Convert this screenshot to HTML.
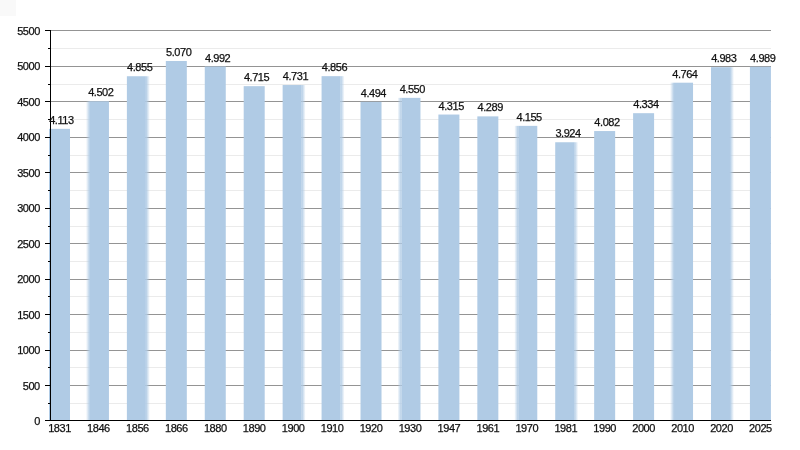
<!DOCTYPE html><html><head><meta charset="utf-8"><style>html,body{margin:0;padding:0;background:#fff;width:800px;height:450px;overflow:hidden}svg{display:block}text{font-family:"Liberation Sans",sans-serif;fill:#111;stroke:#111;stroke-width:0.25px}svg{will-change:transform}</style></head><body>
<svg width="800" height="450" viewBox="0 0 800 450">
<rect x="0" y="0" width="800" height="450" fill="#fff"/><rect x="0" y="0" width="16" height="16" fill="#f9f9f9"/>
<line x1="50.5" x2="771" y1="403.5" y2="403.5" stroke="#ebebeb" stroke-width="1"/>
<line x1="50.5" x2="771" y1="385.5" y2="385.5" stroke="#949494" stroke-width="1"/>
<line x1="50.5" x2="771" y1="367.5" y2="367.5" stroke="#ebebeb" stroke-width="1"/>
<line x1="50.5" x2="771" y1="350.5" y2="350.5" stroke="#949494" stroke-width="1"/>
<line x1="50.5" x2="771" y1="332.5" y2="332.5" stroke="#ebebeb" stroke-width="1"/>
<line x1="50.5" x2="771" y1="314.5" y2="314.5" stroke="#949494" stroke-width="1"/>
<line x1="50.5" x2="771" y1="296.5" y2="296.5" stroke="#ebebeb" stroke-width="1"/>
<line x1="50.5" x2="771" y1="279.5" y2="279.5" stroke="#949494" stroke-width="1"/>
<line x1="50.5" x2="771" y1="261.5" y2="261.5" stroke="#ebebeb" stroke-width="1"/>
<line x1="50.5" x2="771" y1="243.5" y2="243.5" stroke="#949494" stroke-width="1"/>
<line x1="50.5" x2="771" y1="226.5" y2="226.5" stroke="#ebebeb" stroke-width="1"/>
<line x1="50.5" x2="771" y1="208.5" y2="208.5" stroke="#949494" stroke-width="1"/>
<line x1="50.5" x2="771" y1="190.5" y2="190.5" stroke="#ebebeb" stroke-width="1"/>
<line x1="50.5" x2="771" y1="172.5" y2="172.5" stroke="#949494" stroke-width="1"/>
<line x1="50.5" x2="771" y1="155.5" y2="155.5" stroke="#ebebeb" stroke-width="1"/>
<line x1="50.5" x2="771" y1="137.5" y2="137.5" stroke="#949494" stroke-width="1"/>
<line x1="50.5" x2="771" y1="119.5" y2="119.5" stroke="#ebebeb" stroke-width="1"/>
<line x1="50.5" x2="771" y1="101.5" y2="101.5" stroke="#949494" stroke-width="1"/>
<line x1="50.5" x2="771" y1="84.5" y2="84.5" stroke="#ebebeb" stroke-width="1"/>
<line x1="50.5" x2="771" y1="66.5" y2="66.5" stroke="#949494" stroke-width="1"/>
<line x1="50.5" x2="771" y1="48.5" y2="48.5" stroke="#ebebeb" stroke-width="1"/>
<line x1="50.5" x2="771" y1="30.5" y2="30.5" stroke="#949494" stroke-width="1"/>
<defs><linearGradient id="gl" x1="0" x2="1" y1="0" y2="0"><stop offset="0" stop-color="#b0cbe5" stop-opacity="0"/><stop offset="1" stop-color="#b0cbe5" stop-opacity="1"/></linearGradient><linearGradient id="gr" x1="0" x2="1" y1="0" y2="0"><stop offset="0" stop-color="#b0cbe5" stop-opacity="1"/><stop offset="1" stop-color="#b0cbe5" stop-opacity="0"/></linearGradient></defs>
<rect x="49.00" y="128.85" width="21.00" height="291.65" fill="#b0cbe5"/>
<rect x="89.94" y="101.27" width="19.00" height="319.23" fill="#b0cbe5"/>
<rect x="85.94" y="101.27" width="4.0" height="319.23" fill="url(#gl)"/>
<rect x="126.88" y="76.24" width="19.00" height="344.26" fill="#b0cbe5"/>
<rect x="145.88" y="76.24" width="4.0" height="344.26" fill="url(#gr)"/>
<rect x="165.82" y="60.99" width="21.00" height="359.51" fill="#b0cbe5"/>
<rect x="204.76" y="66.52" width="21.00" height="353.98" fill="#b0cbe5"/>
<rect x="243.70" y="86.16" width="21.00" height="334.34" fill="#b0cbe5"/>
<rect x="282.64" y="85.03" width="19.00" height="335.47" fill="#b0cbe5"/>
<rect x="301.64" y="85.03" width="4.0" height="335.47" fill="url(#gr)"/>
<rect x="321.58" y="76.17" width="19.00" height="344.33" fill="#b0cbe5"/>
<rect x="340.58" y="76.17" width="4.0" height="344.33" fill="url(#gr)"/>
<rect x="360.52" y="101.83" width="21.00" height="318.67" fill="#b0cbe5"/>
<rect x="401.46" y="97.86" width="19.00" height="322.64" fill="#b0cbe5"/>
<rect x="397.46" y="97.86" width="4.0" height="322.64" fill="url(#gl)"/>
<rect x="438.40" y="114.53" width="21.00" height="305.97" fill="#b0cbe5"/>
<rect x="477.34" y="116.37" width="21.00" height="304.13" fill="#b0cbe5"/>
<rect x="518.28" y="125.87" width="19.00" height="294.63" fill="#b0cbe5"/>
<rect x="514.28" y="125.87" width="4.0" height="294.63" fill="url(#gl)"/>
<rect x="555.22" y="142.25" width="19.00" height="278.25" fill="#b0cbe5"/>
<rect x="574.22" y="142.25" width="4.0" height="278.25" fill="url(#gr)"/>
<rect x="594.16" y="131.05" width="21.00" height="289.45" fill="#b0cbe5"/>
<rect x="633.10" y="113.18" width="21.00" height="307.32" fill="#b0cbe5"/>
<rect x="674.04" y="82.69" width="19.00" height="337.81" fill="#b0cbe5"/>
<rect x="670.04" y="82.69" width="4.0" height="337.81" fill="url(#gl)"/>
<rect x="710.98" y="67.16" width="19.00" height="353.34" fill="#b0cbe5"/>
<rect x="729.98" y="67.16" width="4.0" height="353.34" fill="url(#gr)"/>
<rect x="749.92" y="66.73" width="21.00" height="353.77" fill="#b0cbe5"/>
<line x1="50.5" y1="30" x2="50.5" y2="421" stroke="#000" stroke-width="1"/>
<line x1="45" y1="420.5" x2="771" y2="420.5" stroke="#000" stroke-width="1"/>
<line x1="45" y1="420.5" x2="50" y2="420.5" stroke="#000" stroke-width="1"/>
<line x1="48" y1="403.5" x2="50" y2="403.5" stroke="#000" stroke-width="1"/>
<line x1="45" y1="385.5" x2="50" y2="385.5" stroke="#000" stroke-width="1"/>
<line x1="48" y1="367.5" x2="50" y2="367.5" stroke="#000" stroke-width="1"/>
<line x1="45" y1="350.5" x2="50" y2="350.5" stroke="#000" stroke-width="1"/>
<line x1="48" y1="332.5" x2="50" y2="332.5" stroke="#000" stroke-width="1"/>
<line x1="45" y1="314.5" x2="50" y2="314.5" stroke="#000" stroke-width="1"/>
<line x1="48" y1="296.5" x2="50" y2="296.5" stroke="#000" stroke-width="1"/>
<line x1="45" y1="279.5" x2="50" y2="279.5" stroke="#000" stroke-width="1"/>
<line x1="48" y1="261.5" x2="50" y2="261.5" stroke="#000" stroke-width="1"/>
<line x1="45" y1="243.5" x2="50" y2="243.5" stroke="#000" stroke-width="1"/>
<line x1="48" y1="226.5" x2="50" y2="226.5" stroke="#000" stroke-width="1"/>
<line x1="45" y1="208.5" x2="50" y2="208.5" stroke="#000" stroke-width="1"/>
<line x1="48" y1="190.5" x2="50" y2="190.5" stroke="#000" stroke-width="1"/>
<line x1="45" y1="172.5" x2="50" y2="172.5" stroke="#000" stroke-width="1"/>
<line x1="48" y1="155.5" x2="50" y2="155.5" stroke="#000" stroke-width="1"/>
<line x1="45" y1="137.5" x2="50" y2="137.5" stroke="#000" stroke-width="1"/>
<line x1="48" y1="119.5" x2="50" y2="119.5" stroke="#000" stroke-width="1"/>
<line x1="45" y1="101.5" x2="50" y2="101.5" stroke="#000" stroke-width="1"/>
<line x1="48" y1="84.5" x2="50" y2="84.5" stroke="#000" stroke-width="1"/>
<line x1="45" y1="66.5" x2="50" y2="66.5" stroke="#000" stroke-width="1"/>
<line x1="48" y1="48.5" x2="50" y2="48.5" stroke="#000" stroke-width="1"/>
<line x1="45" y1="30.5" x2="50" y2="30.5" stroke="#000" stroke-width="1"/>
<text transform="translate(39.80,425.00) scale(1.0,1)" text-anchor="end" font-size="11.0" letter-spacing="-0.45">0</text>
<text transform="translate(39.80,389.55) scale(1.0,1)" text-anchor="end" font-size="11.0" letter-spacing="-0.45">500</text>
<text transform="translate(39.80,354.09) scale(1.0,1)" text-anchor="end" font-size="11.0" letter-spacing="-0.45">1000</text>
<text transform="translate(39.80,318.64) scale(1.0,1)" text-anchor="end" font-size="11.0" letter-spacing="-0.45">1500</text>
<text transform="translate(39.80,283.18) scale(1.0,1)" text-anchor="end" font-size="11.0" letter-spacing="-0.45">2000</text>
<text transform="translate(39.80,247.73) scale(1.0,1)" text-anchor="end" font-size="11.0" letter-spacing="-0.45">2500</text>
<text transform="translate(39.80,212.27) scale(1.0,1)" text-anchor="end" font-size="11.0" letter-spacing="-0.45">3000</text>
<text transform="translate(39.80,176.82) scale(1.0,1)" text-anchor="end" font-size="11.0" letter-spacing="-0.45">3500</text>
<text transform="translate(39.80,141.36) scale(1.0,1)" text-anchor="end" font-size="11.0" letter-spacing="-0.45">4000</text>
<text transform="translate(39.80,105.91) scale(1.0,1)" text-anchor="end" font-size="11.0" letter-spacing="-0.45">4500</text>
<text transform="translate(39.80,70.45) scale(1.0,1)" text-anchor="end" font-size="11.0" letter-spacing="-0.45">5000</text>
<text transform="translate(39.80,35.00) scale(1.0,1)" text-anchor="end" font-size="11.0" letter-spacing="-0.45">5500</text>
<text transform="translate(59.50,432.00) scale(1.0,1)" text-anchor="middle" font-size="11.0" letter-spacing="-0.45">1831</text>
<text transform="translate(98.44,432.00) scale(1.0,1)" text-anchor="middle" font-size="11.0" letter-spacing="-0.45">1846</text>
<text transform="translate(137.38,432.00) scale(1.0,1)" text-anchor="middle" font-size="11.0" letter-spacing="-0.45">1856</text>
<text transform="translate(176.32,432.00) scale(1.0,1)" text-anchor="middle" font-size="11.0" letter-spacing="-0.45">1866</text>
<text transform="translate(215.26,432.00) scale(1.0,1)" text-anchor="middle" font-size="11.0" letter-spacing="-0.45">1880</text>
<text transform="translate(254.20,432.00) scale(1.0,1)" text-anchor="middle" font-size="11.0" letter-spacing="-0.45">1890</text>
<text transform="translate(293.14,432.00) scale(1.0,1)" text-anchor="middle" font-size="11.0" letter-spacing="-0.45">1900</text>
<text transform="translate(332.08,432.00) scale(1.0,1)" text-anchor="middle" font-size="11.0" letter-spacing="-0.45">1910</text>
<text transform="translate(371.02,432.00) scale(1.0,1)" text-anchor="middle" font-size="11.0" letter-spacing="-0.45">1920</text>
<text transform="translate(409.96,432.00) scale(1.0,1)" text-anchor="middle" font-size="11.0" letter-spacing="-0.45">1930</text>
<text transform="translate(448.90,432.00) scale(1.0,1)" text-anchor="middle" font-size="11.0" letter-spacing="-0.45">1947</text>
<text transform="translate(487.84,432.00) scale(1.0,1)" text-anchor="middle" font-size="11.0" letter-spacing="-0.45">1961</text>
<text transform="translate(526.78,432.00) scale(1.0,1)" text-anchor="middle" font-size="11.0" letter-spacing="-0.45">1970</text>
<text transform="translate(565.72,432.00) scale(1.0,1)" text-anchor="middle" font-size="11.0" letter-spacing="-0.45">1981</text>
<text transform="translate(604.66,432.00) scale(1.0,1)" text-anchor="middle" font-size="11.0" letter-spacing="-0.45">1990</text>
<text transform="translate(643.60,432.00) scale(1.0,1)" text-anchor="middle" font-size="11.0" letter-spacing="-0.45">2000</text>
<text transform="translate(682.54,432.00) scale(1.0,1)" text-anchor="middle" font-size="11.0" letter-spacing="-0.45">2010</text>
<text transform="translate(721.48,432.00) scale(1.0,1)" text-anchor="middle" font-size="11.0" letter-spacing="-0.45">2020</text>
<text transform="translate(760.42,432.00) scale(1.0,1)" text-anchor="middle" font-size="11.0" letter-spacing="-0.45">2025</text>
<text transform="translate(49.20,123.85) scale(1.0,1)" font-size="11.0" letter-spacing="-0.45">4.113</text>
<text transform="translate(88.14,96.27) scale(1.0,1)" font-size="11.0" letter-spacing="-0.45">4.502</text>
<text transform="translate(127.08,71.24) scale(1.0,1)" font-size="11.0" letter-spacing="-0.45">4.855</text>
<text transform="translate(166.02,55.99) scale(1.0,1)" font-size="11.0" letter-spacing="-0.45">5.070</text>
<text transform="translate(204.96,61.52) scale(1.0,1)" font-size="11.0" letter-spacing="-0.45">4.992</text>
<text transform="translate(243.90,81.16) scale(1.0,1)" font-size="11.0" letter-spacing="-0.45">4.715</text>
<text transform="translate(282.84,80.03) scale(1.0,1)" font-size="11.0" letter-spacing="-0.45">4.731</text>
<text transform="translate(321.78,71.17) scale(1.0,1)" font-size="11.0" letter-spacing="-0.45">4.856</text>
<text transform="translate(360.72,96.83) scale(1.0,1)" font-size="11.0" letter-spacing="-0.45">4.494</text>
<text transform="translate(399.66,92.86) scale(1.0,1)" font-size="11.0" letter-spacing="-0.45">4.550</text>
<text transform="translate(438.60,109.53) scale(1.0,1)" font-size="11.0" letter-spacing="-0.45">4.315</text>
<text transform="translate(477.54,111.37) scale(1.0,1)" font-size="11.0" letter-spacing="-0.45">4.289</text>
<text transform="translate(516.48,120.87) scale(1.0,1)" font-size="11.0" letter-spacing="-0.45">4.155</text>
<text transform="translate(555.42,137.25) scale(1.0,1)" font-size="11.0" letter-spacing="-0.45">3.924</text>
<text transform="translate(594.36,126.05) scale(1.0,1)" font-size="11.0" letter-spacing="-0.45">4.082</text>
<text transform="translate(633.30,108.18) scale(1.0,1)" font-size="11.0" letter-spacing="-0.45">4.334</text>
<text transform="translate(672.24,77.69) scale(1.0,1)" font-size="11.0" letter-spacing="-0.45">4.764</text>
<text transform="translate(711.18,62.16) scale(1.0,1)" font-size="11.0" letter-spacing="-0.45">4.983</text>
<text transform="translate(750.12,61.73) scale(1.0,1)" font-size="11.0" letter-spacing="-0.45">4.989</text>
</svg></body></html>
